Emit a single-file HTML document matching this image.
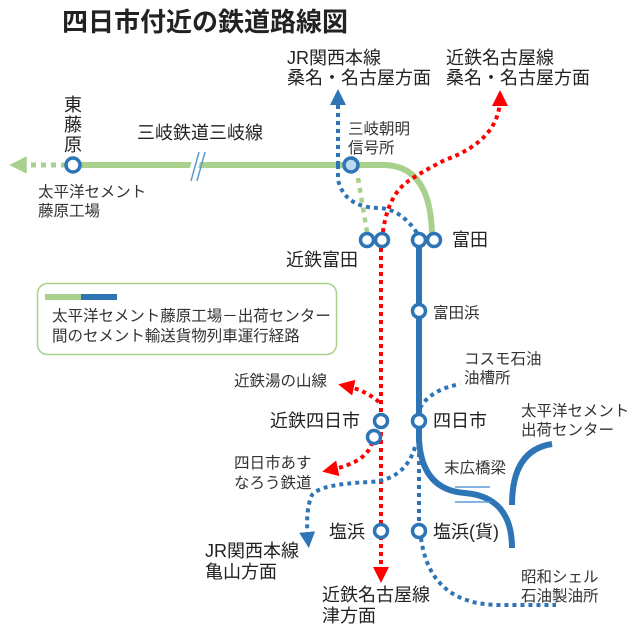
<!DOCTYPE html>
<html><head><meta charset="utf-8"><style>
body{margin:0;background:#fff;}
svg{display:block;}
text{font-family:"Liberation Sans","Noto Sans CJK JP",sans-serif;fill:#222;}
.s text{fill:#333;}
</style></head><body>
<svg width="640" height="631" viewBox="0 0 640 631" xmlns="http://www.w3.org/2000/svg">
<defs>
<marker id="ar" viewBox="0 0 10 10" refX="5" refY="5" markerWidth="4" markerHeight="4" orient="auto"><path d="M0,0L10,5L0,10z" fill="#ff0000"/></marker>
<marker id="ab" viewBox="0 0 10 10" refX="5" refY="5" markerWidth="4" markerHeight="4" orient="auto"><path d="M0,0L10,5L0,10z" fill="#2e75b6"/></marker>
<marker id="ag" viewBox="0 0 10 10" refX="5" refY="5" markerWidth="3.5" markerHeight="3.5" orient="auto"><path d="M0,0L10,5L0,10z" fill="#a9d18e"/></marker>
</defs>
<text x="62" y="31" font-size="26" font-weight="bold" fill="#000">四日市付近の鉄道路線図</text>
<g font-size="18">
<text x="287" y="64">JR関西本線</text><text x="287" y="84">桑名・名古屋方面</text>
<text x="446" y="64">近鉄名古屋線</text><text x="446" y="84">桑名・名古屋方面</text>
</g>
<!-- legend -->
<rect x="37.5" y="283.5" width="299" height="71" rx="10" fill="#fff" stroke="#a9d18e" stroke-width="1.5"/>
<line x1="45" y1="297" x2="81" y2="297" stroke="#a9d18e" stroke-width="6"/>
<line x1="81" y1="297" x2="117" y2="297" stroke="#2e75b6" stroke-width="6"/>
<g class="s">
<text x="52" y="321" font-size="15.5">太平洋セメント藤原工場－出荷センター</text>
<text x="52" y="341" font-size="15.5">間のセメント輸送貨物列車運行経路</text>
</g>
<!-- green -->
<line x1="66" y1="165" x2="18" y2="165" stroke="#a9d18e" stroke-width="5" stroke-dasharray="5,5" marker-end="url(#ag)"/>
<path d="M73,165 H383 Q432,165 432,238" fill="none" stroke="#a9d18e" stroke-width="6"/>
<line x1="190" y1="181" x2="198" y2="155" stroke="#fff" stroke-width="8"/>
<line x1="191" y1="181" x2="199" y2="152" stroke="#5b9bd5" stroke-width="1.5"/>
<line x1="197" y1="181" x2="205" y2="152" stroke="#5b9bd5" stroke-width="1.5"/>
<line x1="358" y1="178" x2="367" y2="232" stroke="#a9d18e" stroke-width="4.5" stroke-dasharray="5,5"/>
<!-- blue dotted from top -->
<path d="M338,165 V97" stroke="#2e75b6" stroke-width="4" stroke-dasharray="4,4" fill="none" marker-end="url(#ab)"/>
<path d="M338,165 V180 Q345,208 380,208 Q403,210 419,236" stroke="#2e75b6" stroke-width="4" stroke-dasharray="4,4" fill="none"/>
<!-- red dotted -->
<path d="M382,240 Q386,195 410,180 Q425,170 445,160 Q500,140 500,98" stroke="#ff0000" stroke-width="4" stroke-dasharray="4,4" fill="none" marker-end="url(#ar)"/>
<line x1="381" y1="240" x2="381" y2="575" stroke="#ff0000" stroke-width="4" stroke-dasharray="4,4" marker-end="url(#ar)"/>
<path d="M379,402 Q365,390 346,386" stroke="#ff0000" stroke-width="4" stroke-dasharray="4,4" fill="none" marker-end="url(#ar)"/>
<path d="M372,442 Q368,462 330,470" stroke="#ff0000" stroke-width="4" stroke-dasharray="4,4" fill="none" marker-end="url(#ar)"/>
<!-- blue solid -->
<path d="M419,240 V440 Q422,490 465,493 Q512,497 512,548" stroke="#2e75b6" stroke-width="6" fill="none"/>
<path d="M552,444 Q512,450 512,505" stroke="#2e75b6" stroke-width="6" fill="none"/>
<line x1="455" y1="487" x2="490" y2="487" stroke="#5b9bd5" stroke-width="1.5"/>
<line x1="455" y1="502" x2="490" y2="502" stroke="#5b9bd5" stroke-width="1.5"/>
<!-- blue dotted -->
<path d="M420,408 Q430,390 460,384" stroke="#2e75b6" stroke-width="4" stroke-dasharray="4,4" fill="none"/>
<line x1="419" y1="445" x2="419" y2="525" stroke="#2e75b6" stroke-width="4" stroke-dasharray="4,4"/>
<path d="M421,538 Q430,605 500,605 H556" stroke="#2e75b6" stroke-width="4" stroke-dasharray="4,4" fill="none"/>
<path d="M415,447 Q405,480 370,482 Q320,484 312,495 Q305,510 308,540" stroke="#2e75b6" stroke-width="4" stroke-dasharray="4,4" fill="none" marker-end="url(#ab)"/>
<!-- stations -->
<g fill="#fff" stroke="#2e75b6" stroke-width="3.5">
<circle cx="73" cy="165" r="7"/>
<circle cx="351" cy="165" r="7" fill="#bdd7ee"/>
<circle cx="367" cy="240" r="6.5"/><circle cx="382" cy="240" r="6.5"/>
<circle cx="419" cy="240" r="6.5"/><circle cx="434" cy="240" r="6.5"/>
<circle cx="419" cy="311" r="6.5"/>
<circle cx="381" cy="421" r="6.5"/><circle cx="374" cy="437" r="6.5"/>
<circle cx="419" cy="421" r="6.5"/>
<circle cx="381" cy="531" r="6.5"/><circle cx="419" cy="531" r="6.5"/>
</g>
<!-- labels -->
<g font-size="18">
<text x="64" y="111">東</text><text x="64" y="131">藤</text><text x="64" y="151">原</text>
<text x="137" y="139">三岐鉄道三岐線</text>
<text x="286" y="266">近鉄富田</text>
<text x="452" y="246">富田</text>
<text x="270" y="427">近鉄四日市</text>
<text x="433" y="427">四日市</text>
<text x="329" y="538">塩浜</text>
<text x="433" y="538">塩浜(貨)</text>
<text x="205" y="557">JR関西本線</text><text x="205" y="578">亀山方面</text>
<text x="322" y="601">近鉄名古屋線</text><text x="322" y="622">津方面</text>
</g>
<g font-size="15.5" class="s">
<text x="38" y="197">太平洋セメント</text><text x="38" y="216">藤原工場</text>
<text x="348" y="134">三岐朝明</text><text x="348" y="153">信号所</text>
<text x="433" y="318">富田浜</text>
<text x="464" y="364">コスモ石油</text><text x="464" y="383">油槽所</text>
<text x="234" y="386">近鉄湯の山線</text>
<text x="234" y="468">四日市あす</text><text x="234" y="488">なろう鉄道</text>
<text x="521" y="416">太平洋セメント</text><text x="521" y="435">出荷センター</text>
<text x="444" y="473">末広橋梁</text>
<text x="521" y="582">昭和シェル</text><text x="521" y="601">石油製油所</text>
</g>
</svg>
</body></html>
